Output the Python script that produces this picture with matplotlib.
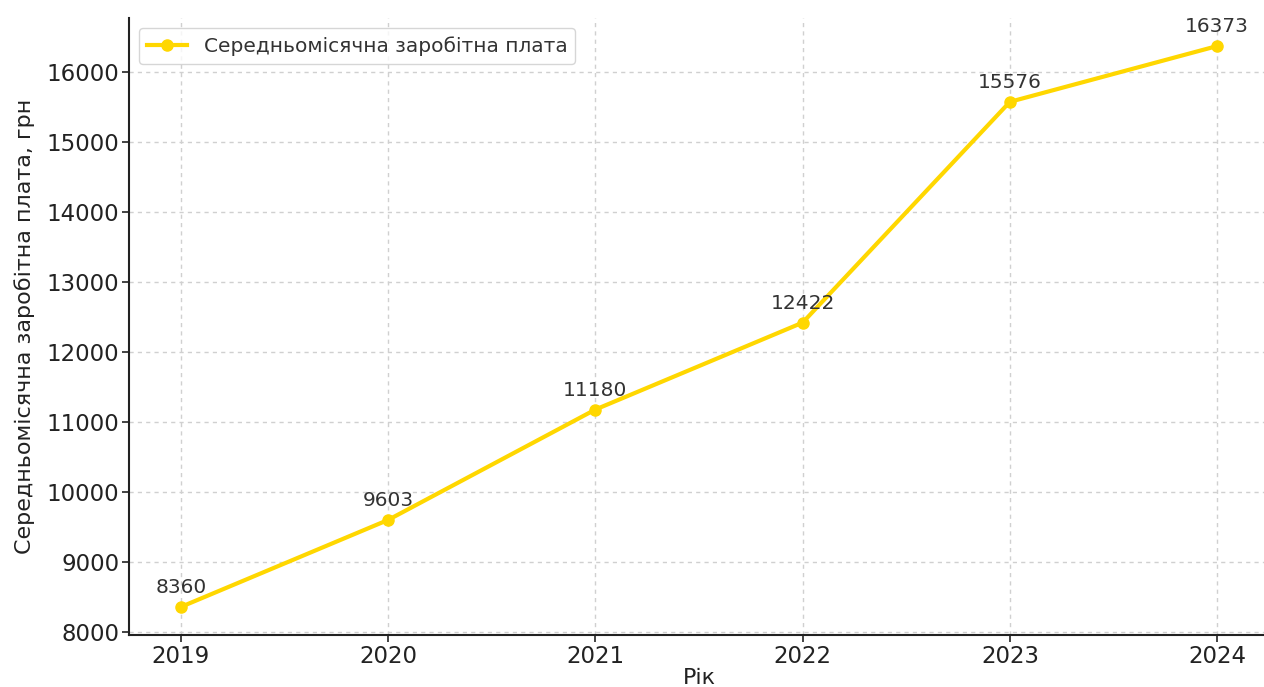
import matplotlib.pyplot as plt

years = [2019, 2020, 2021, 2022, 2023, 2024]
salary = [8360, 9603, 11180, 12422, 15576, 16373]
series_label = 'Середньомісячна заробітна плата'

fig = plt.figure(figsize=(12.64, 6.87), dpi=100)
ax = fig.add_axes([129 / 1264, 1 - 635 / 687, 1140 / 1264, 617 / 687])

ax.plot(years, salary, '-o', color='#FFD700', linewidth=3, markersize=8,
        label=series_label)
for x, y in zip(years, salary):
    ax.annotate(str(y), (x, y), textcoords='offset points', xytext=(0, 10),
                ha='center', fontsize=14.5, color='#333333')

ax.set_xticks(years)
ax.tick_params(labelsize=16.5, colors='#222222', length=5, width=1.2)
ax.tick_params(axis='x', pad=2)
ax.tick_params(axis='y', pad=2)
ax.set_xlabel('Рік', fontsize=16, color='#222222', labelpad=0)
ax.set_ylabel('Середньомісячна заробітна плата, грн', fontsize=16,
              color='#222222', labelpad=8)
ax.grid(True, linestyle=(0, (3, 3)), color='#d0d0d0', linewidth=1)
for side in ('top', 'right'):
    ax.spines[side].set_visible(False)
for side in ('left', 'bottom'):
    ax.spines[side].set_linewidth(1.5)
    ax.spines[side].set_color('#222222')
ax.legend(loc='upper left', fontsize=14.5, labelcolor='#333333')

fig.savefig('out.png', dpi=100)
